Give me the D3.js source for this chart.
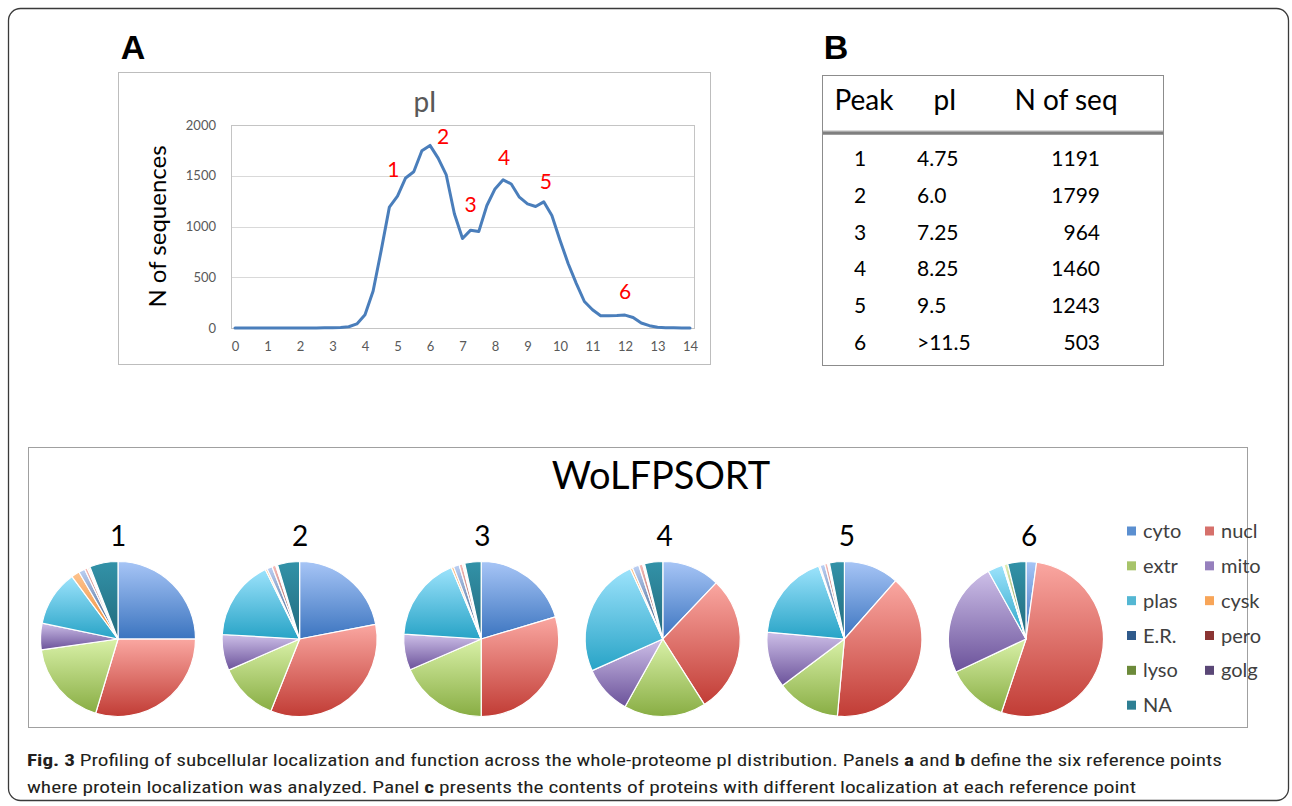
<!DOCTYPE html>
<html>
<head>
<meta charset="utf-8">
<script src="https://cdn.jsdelivr.net/npm/d3@7"></script>
<style>
  html, body { margin: 0; padding: 0; background: #fff; }
  svg { display: block; }
</style>
</head>
<body>
<svg id="fig" width="1292" height="806"></svg>
<script>
// ---- Panel A: pI distribution of the proteome ----
const pIValues = [0, 0.25, 0.5, 0.75, 1, 1.25, 1.5, 1.75, 2, 2.25, 2.5, 2.75, 3, 3.25, 3.5, 3.75,
  4, 4.25, 4.5, 4.75, 5, 5.25, 5.5, 5.75, 6, 6.25, 6.5, 6.75, 7, 7.25, 7.5, 7.75,
  8, 8.25, 8.5, 8.75, 9, 9.25, 9.5, 9.75, 10, 10.25, 10.5, 10.75, 11, 11.25, 11.5, 11.75,
  12, 12.25, 12.5, 12.75, 13, 13.25, 13.5, 13.75, 14];
const seqCounts = [0, 0, 0, 0, 0, 0, 0, 0, 0, 1, 1, 2, 3, 5, 12, 40,
  130, 365, 767, 1191, 1300, 1478, 1540, 1746, 1799, 1674, 1508, 1126, 881, 964, 950, 1207,
  1370, 1460, 1419, 1289, 1223, 1197, 1243, 1109, 865, 636, 440, 261, 180, 121, 121, 122,
  127, 104, 49, 23, 7, 3, 2, 1, 1];
const xTicks = [0, 1, 2, 3, 4, 5, 6, 7, 8, 9, 10, 11, 12, 13, 14];
const yTicks = [0, 500, 1000, 1500, 2000];

// ---- Panel B: reference peaks ----
const peakIds = ["1", "2", "3", "4", "5", "6"];
const peakPI = ["4.75", "6.0", "7.25", "8.25", "9.5", ">11.5"];
const peakN = [1191, 1799, 964, 1460, 1243, 503];
// where each peak number sits on the curve (pI, count)
const peakMarkPI = [4.75, 6.0, 7.25, 8.25, 9.5, 12.0];
const peakMarkN = [1191, 1799, 964, 1460, 1243, 127];

// ---- Panel C: WoLFPSORT localization shares (%) per peak ----
const locations = ["cyto", "nucl", "extr", "mito", "plas", "cysk", "E.R.", "pero", "lyso", "golg", "NA"];
const shares1 = [25.0, 29.6, 18.1, 5.5, 11.6, 1.7, 1.3, 0.6, 0.3, 0.3, 5.9];
const shares2 = [22.0, 34.1, 12.4, 7.5, 16.8, 0.4, 1.1, 0.8, 0.2, 0.2, 4.6];
const shares3 = [20.4, 29.6, 18.5, 7.5, 17.7, 0.5, 1.2, 0.7, 0.3, 0.2, 3.4];
const shares4 = [12.1, 28.9, 17.1, 10.2, 24.8, 0.5, 1.4, 0.8, 0.2, 0.2, 3.8];
const shares5 = [11.5, 40.0, 13.3, 11.7, 18.2, 0.3, 1.0, 0.6, 0.2, 0.2, 3.1];
const shares6 = [2.2, 53.1, 12.9, 24.0, 3.2, 0.1, 0.1, 0.1, 0.8, 0.0, 3.8];
const pieShares = [shares1, shares2, shares3, shares4, shares5, shares6];

// slice gradient stops (light top -> dark bottom) and flat legend colours
const sliceTop = ["#a7c5f6", "#faa7a1", "#d9f1a8", "#cdbfe8", "#9de3fc", "#fdc38e", "#bcd0f5", "#f8bcb9", "#e3f0b6", "#d6cbea", "#3292a8"];
const sliceBottom = ["#3b74bf", "#c13c35", "#88ad43", "#6b529a", "#27a3c6", "#ef8730", "#2c4d75", "#772c2a", "#5f7530", "#4d3b62", "#236a7d"];
const legendColors = ["#5b8fd0", "#d6706b", "#a7c46a", "#9680bd", "#54b7d3", "#f8a558", "#2f5a8b", "#8b3533", "#6c8a3a", "#5a4776", "#2e7f93"];

const svg = d3.select("#fig");
const FONT = "Lato, 'Open Sans', sans-serif";

// outer figure frame
svg.append("rect")
  .attr("x", 8.5).attr("y", 8.5).attr("width", 1280).attr("height", 792)
  .attr("rx", 12).attr("fill", "none").attr("stroke", "#3a3a3a").attr("stroke-width", 1.3);

// panel letters
const letters = [["A", 133, 59], ["B", 836, 59], ["C", 50, 483]];
svg.selectAll("text.letter").data(letters).join("text")
  .attr("class", "letter")
  .attr("x", d => d[1]).attr("y", d => d[2])
  .attr("text-anchor", "middle")
  .attr("font-family", "'Liberation Sans', Arial, sans-serif")
  .attr("font-weight", "bold").attr("font-size", 34)
  .attr("fill", "#000")
  .text(d => d[0]);

// ================= Panel A =================
const gA = svg.append("g");
gA.append("rect")
  .attr("x", 118.5).attr("y", 72.5).attr("width", 592).attr("height", 292)
  .attr("fill", "#fff").attr("stroke", "#bdbdbd").attr("stroke-width", 1);

const x = d3.scaleLinear().domain([0, 14]).range([235, 690]);
const y = d3.scaleLinear().domain([0, 2000]).range([328, 125]);
const plotLeft = 231, plotRight = 694;

// gridlines
gA.selectAll("line.grid").data(yTicks).join("line")
  .attr("x1", plotLeft).attr("x2", plotRight)
  .attr("y1", d => Math.round(y(d)) + 0.5).attr("y2", d => Math.round(y(d)) + 0.5)
  .attr("stroke", "#d9d9d9").attr("stroke-width", 1);
// plot area border
gA.append("rect")
  .attr("x", plotLeft + 0.5).attr("y", Math.round(y(2000)) + 0.5)
  .attr("width", plotRight - plotLeft).attr("height", Math.round(y(0)) - Math.round(y(2000)))
  .attr("fill", "none").attr("stroke", "#c4c4c4").attr("stroke-width", 1);

// y axis labels
const yAxis = d3.axisLeft(y).tickValues(yTicks).tickFormat(d3.format("d")).tickSize(0).tickPadding(15);
gA.append("g").attr("transform", `translate(${plotLeft},0)`).call(yAxis)
  .call(g => g.select(".domain").remove())
  .selectAll("text").attr("font-family", FONT).attr("font-size", 13).attr("fill", "#595959");
// x axis labels
const xAxis = d3.axisBottom(x).tickValues(xTicks).tickSize(0).tickPadding(14);
gA.append("g").attr("transform", `translate(0,${y(0)})`).call(xAxis)
  .call(g => g.select(".domain").remove())
  .selectAll("text").attr("font-family", FONT).attr("font-size", 13).attr("fill", "#595959");

// title and axis title
gA.append("text").attr("x", 425).attr("y", 112).attr("text-anchor", "middle")
  .attr("font-family", FONT).attr("font-size", 28).attr("fill", "#595959").text("pI");
gA.append("text")
  .attr("transform", `translate(166,${(y(0) + y(2000)) / 2}) rotate(-90)`)
  .attr("text-anchor", "middle")
  .attr("font-family", FONT).attr("font-size", 24).attr("fill", "#000")
  .text("N of sequences");

// distribution curve
const line = d3.line().x((d, i) => x(pIValues[i])).y(d => y(d));
gA.append("path").datum(seqCounts)
  .attr("d", line)
  .attr("fill", "none").attr("stroke", "#4a7ebb").attr("stroke-width", 3)
  .attr("stroke-linejoin", "round").attr("stroke-linecap", "round");

// peak numbers (pixel nudges keep them clear of the curve)
const peakNudge = [[4, -30], [13, -1], [0, -18], [1, -15], [2, -13], [0, -16]];
gA.selectAll("text.peak").data(peakIds).join("text")
  .attr("class", "peak")
  .attr("x", (d, i) => x(peakMarkPI[i]) + peakNudge[i][0])
  .attr("y", (d, i) => y(peakMarkN[i]) + peakNudge[i][1])
  .attr("text-anchor", "middle")
  .attr("font-family", FONT).attr("font-size", 21).attr("fill", "#ff0000")
  .text(d => d);

// ================= Panel B =================
const gB = svg.append("g");
gB.append("rect")
  .attr("x", 822.5).attr("y", 75.5).attr("width", 341).attr("height", 290)
  .attr("fill", "none").attr("stroke", "#8c8c8c").attr("stroke-width", 1);
gB.append("line").attr("x1", 823).attr("x2", 1163).attr("y1", 133).attr("y2", 133)
  .attr("stroke", "#7f7f7f").attr("stroke-width", 3.5);
gB.append("line").attr("x1", 823).attr("x2", 1163).attr("y1", 131).attr("y2", 131)
  .attr("stroke", "#b5b5b5").attr("stroke-width", 1);

const headers = [["Peak", 864, "middle"], ["pI", 945, "middle"], ["N of seq", 1066, "middle"]];
gB.selectAll("text.hdr").data(headers).join("text")
  .attr("class", "hdr")
  .attr("x", d => d[1]).attr("y", 110).attr("text-anchor", d => d[2])
  .attr("font-family", FONT).attr("font-size", 28).attr("fill", "#000")
  .text(d => d[0]);

const rowY = d3.scaleLinear().domain([0, 5]).range([166, 350]);
const rows = gB.selectAll("g.row").data(peakIds).join("g").attr("class", "row")
  .attr("transform", (d, i) => `translate(0,${rowY(i)})`);
rows.append("text").attr("x", 860).attr("text-anchor", "middle")
  .attr("font-family", FONT).attr("font-size", 21).text(d => d);
rows.append("text").attr("x", 917).attr("text-anchor", "start")
  .attr("font-family", FONT).attr("font-size", 21).text((d, i) => peakPI[i]);
rows.append("text").attr("x", 1100).attr("text-anchor", "end")
  .attr("font-family", FONT).attr("font-size", 21).text((d, i) => peakN[i]);

// ================= Panel C =================
const gC = svg.append("g");
gC.append("rect")
  .attr("x", 28.5).attr("y", 447.5).attr("width", 1219).attr("height", 280)
  .attr("fill", "#fff").attr("stroke", "#a0a0a0").attr("stroke-width", 1);
gC.append("text").attr("x", 661).attr("y", 489).attr("text-anchor", "middle")
  .attr("font-family", FONT).attr("font-size", 38).attr("fill", "#000").text("WoLFPSORT");

// gradients, one per location
const defs = svg.append("defs");
locations.forEach((loc, i) => {
  const gr = defs.append("linearGradient").attr("id", "grad" + i)
    .attr("x1", 0).attr("y1", 0).attr("x2", 0).attr("y2", 1);
  gr.append("stop").attr("offset", "0%").attr("stop-color", sliceTop[i]);
  gr.append("stop").attr("offset", "100%").attr("stop-color", sliceBottom[i]);
});

const pieX = d3.scaleLinear().domain([0, 5]).range([118, 1026]);
const pieLabelX = d3.scaleLinear().domain([0, 5]).range([118, 1029]);
const pieCY = 639, pieR = 77.5;
const pie = d3.pie().sort(null).value(d => d);
const arc = d3.arc().innerRadius(0).outerRadius(pieR);

pieShares.forEach((shares, p) => {
  const g = gC.append("g").attr("transform", `translate(${pieX(p)},${pieCY})`);
  g.selectAll("path").data(pie(shares).map((s, i) => ({ ...s, idx: i })).filter(s => s.value > 0))
    .join("path")
    .attr("d", arc)
    .attr("fill", s => `url(#grad${s.idx})`)
    .attr("stroke", "#fff").attr("stroke-width", 1.2).attr("stroke-linejoin", "round");
  gC.append("text").attr("x", pieLabelX(p)).attr("y", 546).attr("text-anchor", "middle")
    .attr("font-family", FONT).attr("font-size", 28).attr("fill", "#000").text(peakIds[p]);
});

// legend, two columns
const legRow = d3.scaleLinear().domain([0, 6]).range([531, 740]);
const leg = gC.selectAll("g.leg").data(locations).join("g").attr("class", "leg")
  .attr("transform", (d, i) => `translate(${i % 2 === 0 ? 1127 : 1205},${legRow(Math.floor(i / 2))})`);
leg.append("rect").attr("x", 0).attr("y", -4.5).attr("width", 9).attr("height", 9)
  .attr("fill", (d, i) => legendColors[i]);
leg.append("text").attr("x", 16).attr("y", 7).attr("font-family", FONT).attr("font-size", 20)
  .attr("fill", "#404040").text(d => d);

// ================= Caption =================
const cap = svg.append("g").attr("font-family", "'Liberation Sans Narrow', 'Roboto Condensed', 'Roboto', sans-serif")
  .attr("font-size", 17).attr("fill", "#231f20");
const line1 = cap.append("text").attr("x", 27).attr("y", 766)
  .attr("textLength", 1195).attr("lengthAdjust", "spacingAndGlyphs");
line1.append("tspan").attr("font-weight", "bold").text("Fig. 3");
line1.append("tspan").text(" Profiling of subcellular localization and function across the whole-proteome pI distribution. Panels ");
line1.append("tspan").attr("font-weight", "bold").text("a");
line1.append("tspan").text(" and ");
line1.append("tspan").attr("font-weight", "bold").text("b");
line1.append("tspan").text(" define the six reference points");
const line2 = cap.append("text").attr("x", 27).attr("y", 793)
  .attr("textLength", 1109).attr("lengthAdjust", "spacingAndGlyphs");
line2.append("tspan").text("where protein localization was analyzed. Panel ");
line2.append("tspan").attr("font-weight", "bold").text("c");
line2.append("tspan").text(" presents the contents of proteins with different localization at each reference point");
</script>
</body>
</html>
